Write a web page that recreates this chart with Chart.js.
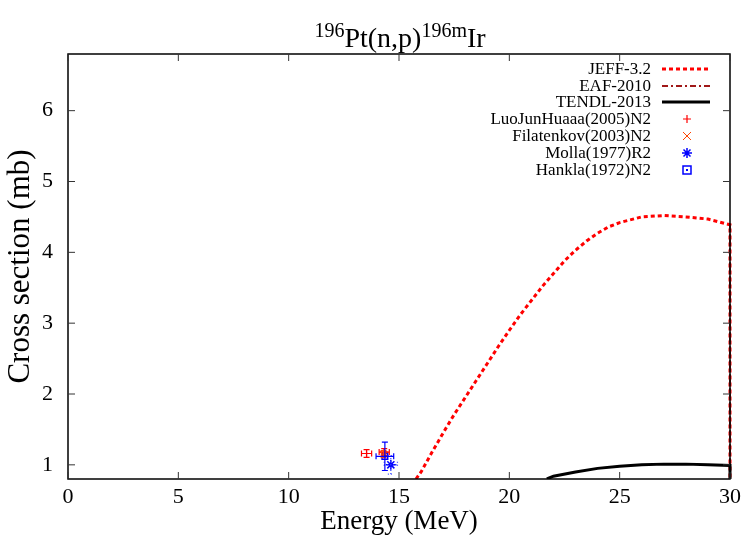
<!DOCTYPE html>
<html><head><meta charset="utf-8">
<script src="https://cdn.jsdelivr.net/npm/chart.js@4/dist/chart.umd.min.js"></script>
<style>
html,body{margin:0;padding:0;background:#fff;}
#wrap{position:relative;width:746px;height:539px;}
#title{position:absolute;left:0;width:800px;top:23px;text-align:center;font-family:"Liberation Serif",serif;font-size:28px;line-height:30px;color:#000;}
#title sup{font-size:20px;vertical-align:10px;line-height:0;}
</style></head><body>
<div id="wrap"><canvas id="c" width="746" height="539"></canvas>
<div id="title"><sup>196</sup>Pt(n,p)<sup>196m</sup>Ir</div></div>
<script>
// ---- data ----
const xTicks = [0, 5, 10, 15, 20, 25, 30];
const yTicks = [1, 2, 3, 4, 5, 6];

const jeffE  = [15.77, 16.0, 16.5, 17.0, 17.5, 18.0, 18.5, 19.0, 19.5, 20.0, 20.5, 21.0, 21.5, 22.0, 22.5, 23.0, 23.5, 24.0, 24.5, 25.0, 26.0, 27.0, 28.0, 29.0, 30.0, 30.0];
const jeffXS = [0.80, 0.90, 1.18, 1.45, 1.71, 1.95, 2.19, 2.43, 2.67, 2.90, 3.12, 3.32, 3.52, 3.70, 3.88, 4.03, 4.16, 4.27, 4.36, 4.42, 4.50, 4.52, 4.50, 4.47, 4.39, 0.0];

const eafE  = [20.0, 25.0, 30.0, 30.0];
const eafXS = [0.5, 0.6, 0.7, 4.39];

const tendlE  = [21.7, 22.0, 23.0, 24.0, 25.0, 26.0, 27.0, 28.0, 29.0, 30.0, 30.0];
const tendlXS = [0.80, 0.84, 0.90, 0.95, 0.98, 1.00, 1.01, 1.01, 1.00, 0.99, 0.0];

const luoE = [13.53, 14.33];
const luoXS = [1.16, 1.18];
const luoDE = [0.23, 0.23];
const luoDXS = [0.055, 0.05];

const filE = [14.3];
const filXS = [1.15];
const filDE = [0.1];
const filDXS = [0.05];

const mollaE = [14.63];
const mollaXS = [1.0];
const mollaDE = [0.3];
const mollaDXS = [0.13];

const hankE = [14.36];
const hankXS = [1.12];
const hankDE = [0.40];
const hankDXS = [0.2];

const legendLabels = ["JEFF-3.2", "EAF-2010", "TENDL-2013", "LuoJunHuaaa(2005)N2", "Filatenkov(2003)N2", "Molla(1977)R2", "Hankla(1972)N2"];

// ---- build ----
const pts = (xs, ys) => xs.map((x, i) => ({x: x, y: ys[i]}));
const SERIF = '"Liberation Serif", serif';
const CLIP = {left: 0, top: 0, right: 3, bottom: 0};

const datasets = [
  {label: legendLabels[0], type: 'line', data: pts(jeffE, jeffXS), borderColor: '#ff0000', borderWidth: 3, borderDash: [4, 3], pointRadius: 0, fill: false, tension: 0, clip: CLIP, order: 5},
  {label: legendLabels[1], type: 'line', data: pts(eafE, eafXS), borderColor: '#a01818', borderWidth: 2, borderDash: [6, 3, 2, 3], pointRadius: 0, fill: false, tension: 0, clip: CLIP, order: 4},
  {label: legendLabels[2], type: 'line', data: pts(tendlE, tendlXS), borderColor: '#000000', borderWidth: 3, pointRadius: 0, fill: false, tension: 0, clip: CLIP, order: 3},
  {label: legendLabels[3], type: 'scatter', data: pts(luoE, luoXS), errX: luoDE, errY: luoDXS, errColor: '#ff0000', pointStyle: 'cross', pointRadius: 4, borderColor: '#ff0000', borderWidth: 1.2, order: 2},
  {label: legendLabels[4], type: 'scatter', data: pts(filE, filXS), errX: filDE, errY: filDXS, errColor: '#ff4400', pointStyle: 'crossRot', pointRadius: 4, borderColor: '#ff4400', borderWidth: 1, order: 2},
  {label: legendLabels[5], type: 'scatter', data: pts(mollaE, mollaXS), errX: mollaDE, errY: mollaDXS, errColor: '#3344ff', errDash: [1, 2], pointStyle: 'star', pointRadius: 5, borderColor: '#0000ff', borderWidth: 1.5, order: 1},
  {label: legendLabels[6], type: 'scatter', data: pts(hankE, hankXS), errX: hankDE, errY: hankDXS, errColor: '#0000ff', pointStyle: 'rect', pointRadius: 4, borderColor: '#0000ff', backgroundColor: 'rgba(0,0,0,0)', borderWidth: 1.5, order: 0, dot: true}
];

function drawMarker(ctx, ds, x, y) {
  const r = ds.pointRadius;
  ctx.beginPath();
  if (ds.pointStyle === 'cross') { ctx.moveTo(x - r, y); ctx.lineTo(x + r, y); ctx.moveTo(x, y - r); ctx.lineTo(x, y + r); }
  else if (ds.pointStyle === 'crossRot') { ctx.moveTo(x - r, y - r); ctx.lineTo(x + r, y + r); ctx.moveTo(x + r, y - r); ctx.lineTo(x - r, y + r); }
  else if (ds.pointStyle === 'star') { ctx.moveTo(x - r, y); ctx.lineTo(x + r, y); ctx.moveTo(x, y - r); ctx.lineTo(x, y + r); const q = r * 0.7; ctx.moveTo(x - q, y - q); ctx.lineTo(x + q, y + q); ctx.moveTo(x + q, y - q); ctx.lineTo(x - q, y + q); }
  else if (ds.pointStyle === 'rect') { ctx.rect(x - r, y - r, 2 * r, 2 * r); ctx.stroke(); ctx.fillRect(x - 1, y - 1, 2, 2); return; }
  ctx.stroke();
}

const framePlugin = {
  id: 'frame',
  afterDatasetsDraw(chart) {
    const ctx = chart.ctx, a = chart.chartArea;
    const xs = chart.scales.x, ys = chart.scales.y;
    ctx.save();
    // error bars
    chart.data.datasets.forEach(ds => {
      if (!ds.errX) return;
      ctx.strokeStyle = ds.errColor; ctx.lineWidth = 1.2;
      ctx.setLineDash(ds.errDash || []);
      ds.data.forEach((p, i) => {
        const px = xs.getPixelForValue(p.x), py = ys.getPixelForValue(p.y);
        const x0 = xs.getPixelForValue(p.x - ds.errX[i]), x1 = xs.getPixelForValue(p.x + ds.errX[i]);
        const y0 = ys.getPixelForValue(p.y - ds.errY[i]), y1 = ys.getPixelForValue(p.y + ds.errY[i]);
        ctx.beginPath();
        ctx.moveTo(x0, py); ctx.lineTo(x1, py);
        ctx.moveTo(px, y0); ctx.lineTo(px, y1);
        ctx.moveTo(x0, py - 3); ctx.lineTo(x0, py + 3);
        ctx.moveTo(x1, py - 3); ctx.lineTo(x1, py + 3);
        ctx.moveTo(px - 3, y0); ctx.lineTo(px + 3, y0);
        ctx.moveTo(px - 3, y1); ctx.lineTo(px + 3, y1);
        ctx.stroke();
        if (ds.dot) { ctx.fillStyle = ds.errColor; ctx.fillRect(px - 1, py - 1, 2, 2); }
      });
    });
    ctx.setLineDash([]);
    // frame
    ctx.strokeStyle = '#000'; ctx.lineWidth = 1.5;
    ctx.strokeRect(a.left, a.top, a.right - a.left, a.bottom - a.top);
    // inward ticks
    ctx.lineWidth = 1; ctx.strokeStyle = '#333';
    ctx.beginPath();
    xTicks.forEach(v => {
      const x = xs.getPixelForValue(v);
      ctx.moveTo(x, a.bottom); ctx.lineTo(x, a.bottom - 7);
      ctx.moveTo(x, a.top); ctx.lineTo(x, a.top + 7);
    });
    yTicks.forEach(v => {
      const y = ys.getPixelForValue(v);
      ctx.moveTo(a.left, y); ctx.lineTo(a.left + 7, y);
      ctx.moveTo(a.right, y); ctx.lineTo(a.right - 7, y);
    });
    ctx.stroke();
    // legend
    const tx = 651, sx0 = 662, sx1 = 710, mx = 687;
    const rowY = [69, 86, 102, 119, 136, 153, 170];
    ctx.font = '17px ' + SERIF;
    ctx.textAlign = 'right'; ctx.textBaseline = 'middle';
    chart.data.datasets.forEach((ds, i) => {
      const y = rowY[i];
      ctx.fillStyle = '#000';
      ctx.fillText(ds.label, tx, y + 1);
      if (ds.type === 'line') {
        ctx.strokeStyle = ds.borderColor; ctx.lineWidth = ds.borderWidth;
        ctx.setLineDash(ds.borderDash || []);
        ctx.beginPath(); ctx.moveTo(sx0, y); ctx.lineTo(sx1, y); ctx.stroke();
        ctx.setLineDash([]);
      } else {
        ctx.strokeStyle = ds.borderColor; ctx.fillStyle = ds.borderColor;
        ctx.lineWidth = ds.borderWidth;
        drawMarker(ctx, ds, mx, y);
      }
    });
    ctx.restore();
  }
};

new Chart(document.getElementById('c'), {
  type: 'scatter',
  data: {datasets: datasets},
  options: {
    responsive: false,
    animation: false,
    layout: {padding: {left: 0, top: 54, right: 16, bottom: 0}},
    plugins: {legend: {display: false}, tooltip: {enabled: false}, title: {display: false}},
    scales: {
      x: {
        type: 'linear', min: 0, max: 30,
        afterBuildTicks: s => { s.ticks = xTicks.map(v => ({value: v})); },
        afterFit: s => { s.height = 60; },
        grid: {display: false, drawTicks: false},
        border: {display: false},
        ticks: {padding: 5, color: '#000', font: {family: SERIF, size: 22}, maxRotation: 0},
        title: {display: true, text: 'Energy (MeV)', color: '#000', font: {family: SERIF, size: 27}, padding: {top: 0, bottom: 1}}
      },
      y: {
        type: 'linear', min: 0.8, max: 6.8,
        afterBuildTicks: s => { s.ticks = yTicks.map(v => ({value: v})); },
        afterFit: s => { s.width = 68; },
        grid: {display: false, drawTicks: false},
        border: {display: false},
        ticks: {padding: 15, color: '#000', font: {family: SERIF, size: 22}},
        title: {display: true, text: 'Cross section (mb)', color: '#000', font: {family: SERIF, size: 31}, padding: {top: 2, bottom: 0}}
      }
    }
  },
  plugins: [framePlugin]
});
</script>
</body></html>
